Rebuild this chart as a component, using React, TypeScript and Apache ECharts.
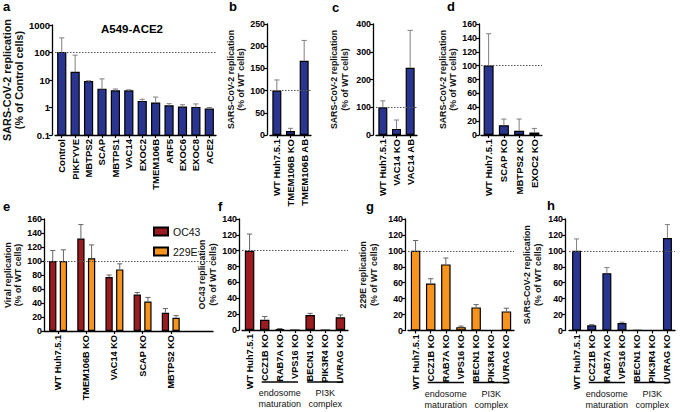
import React, { useEffect, useRef } from 'react';
import * as echarts from 'echarts';

const aCategories = ['Control', 'PIKFYVE', 'MBTPS2', 'SCAP', 'MBTPS1', 'VAC14', 'EXOC2', 'TMEM106B', 'ARF5', 'EXOC6', 'EXOC8', 'ACE2'];
const aValues = [100, 19, 8.7, 4.6, 4.0, 4.0, 1.65, 1.45, 1.15, 1.03, 1.0, 0.87];
const aErrors = [340, 80, 9.4, 11, 4.7, 4.4, 2.0, 2.4, 1.38, 1.26, 1.35, 1.0];

const bCategories = ['WT Huh7.5.1', 'TMEM106B KO', 'TMEM106B AB'];
const bValues = [100, 9, 167];
const bErrors = [124, 15, 213];

const cCategories = ['WT Huh7.5.1', 'VAC14 KO', 'VAC14 AB'];
const cValues = [100, 22, 242];
const cErrors = [123, 54, 377];

const dCategories = ['WT Huh7.5.1', 'SCAP KO', 'MBTPS2 KO', 'EXOC2 KO'];
const dValues = [100, 14, 6, 3.5];
const dErrors = [146, 23, 23, 9.5];

const eCategories = ['WT Huh7.5.1', 'TMEM106B KO', 'VAC14 KO', 'SCAP KO', 'MBTPS2 KO'];
const eOC43 = [100, 132, 77, 52, 26];
const eOC43Err = [115, 152, 80, 55, 32];
const e229E = [100, 104, 88, 42, 19];
const e229EErr = [116, 123, 96, 48, 22];

const fghCategories = ['WT Huh7.5.1', 'CCZ1B KO', 'RAB7A KO', 'VPS16 KO', 'BECN1 KO', 'PIK3R4 KO', 'UVRAG KO'];
const fValues = [100, 13, 1.2, 0, 19, 0, 16];
const fErrors = [121, 17, 1.8, null, 21, null, 19];
const gValues = [100, 59, 83, 4.2, 29, 0, 24];
const gErrors = [113, 65, 91, 5.5, 32.5, null, 28];
const hValues = [100, 6.5, 72, 9.5, 0.6, 0, 116];
const hErrors = [115, 7.5, 79, 10.5, null, null, 133];

const groupLabels = [['endosome', 'maturation'], ['PI3K', 'complex']];
const groupRanges = [['CCZ1B KO', 'VPS16 KO'], ['BECN1 KO', 'UVRAG KO']];

const BLUE = '#2a3590';
const RED = '#9a1b20';
const ORANGE = '#f7941d';
const FONT = '"Liberation Sans", Arial, sans-serif';

export default function App() {
  const ref = useRef<HTMLDivElement>(null);

  useEffect(() => {
    if (!ref.current) return;
    const chart = echarts.init(ref.current, undefined, { renderer: 'svg' });

    const panels: any[] = [
      { cats: aCategories, left: 52, top: 25, width: 164, height: 110, offset: 3, nameGap: 24, log: true, min: 0.1, max: 1000, name: 'SARS-CoV-2 replication\n(% of Control cells)', big: true },
      { cats: bCategories, left: 270, top: 24, width: 41, height: 111, offset: 3, nameGap: 19, min: 0, max: 250, interval: 50, name: 'SARS-CoV-2 replication\n(% of WT cells)' },
      { cats: cCategories, left: 376, top: 24, width: 41, height: 111, offset: 3, nameGap: 23, min: 0, max: 400, interval: 100, name: 'SARS-CoV-2 replication\n(% of WT cells)' },
      { cats: dCategories, left: 481, top: 24, width: 61, height: 111, offset: 2, nameGap: 19, min: 0, max: 160, interval: 20, name: 'SARS-CoV-2 replication\n(% of WT cells)' },
      { cats: eCategories, left: 44, top: 219, width: 169, height: 112, offset: 0, nameGap: 20, min: 0, max: 160, interval: 20, name: 'Viral replication\n(% of WT cells)', extra: true },
      { cats: fghCategories, left: 242, top: 219, width: 106, height: 111, offset: 3, nameGap: 21, min: 0, max: 140, interval: 20, name: 'OC43 replication\n(% of WT cells)' },
      { cats: fghCategories, left: 408, top: 219, width: 106, height: 111.5, offset: 3, nameGap: 26, min: 0, max: 140, interval: 20, name: '229E replication\n(% of WT cells)' },
      { cats: fghCategories, left: 569, top: 219, width: 106, height: 111.5, offset: 4, nameGap: 22, min: 0, max: 140, interval: 20, name: 'SARS-CoV-2 replication\n(% of WT cells)' },
    ];

    const grid = panels.map((p) => ({ left: p.left, top: p.top, width: p.width, height: p.height, containLabel: false }));

    const xAxis = panels.map((p, i) => ({
      type: 'category',
      gridIndex: i,
      data: p.cats,
      max: p.extra ? p.cats.length : undefined,
      axisLine: { show: true, lineStyle: { color: '#000', width: 1.3 } },
      axisTick: {
        show: true, alignWithLabel: true, length: 3, lineStyle: { color: '#000', width: 1.2 },
        interval: p.extra ? (idx: number) => idx < p.cats.length : 0,
      },
      axisLabel: {
        rotate: 90, interval: 0, margin: 4,
        fontSize: i < 4 ? 9.5 : 9.2, fontWeight: 'bold', color: '#000', fontFamily: FONT,
        formatter: (v: any) => (v == null ? '' : String(v)),
      },
      splitLine: { show: false },
    }));

    const yAxis = panels.map((p, i) => ({
      type: p.log ? 'log' : 'value',
      logBase: 10,
      gridIndex: i,
      min: p.min,
      max: p.max,
      interval: p.interval,
      offset: p.offset,
      name: p.name,
      nameLocation: 'middle',
      nameGap: p.nameGap,
      nameTextStyle: {
        fontSize: p.big ? 10.8 : 8.8, lineHeight: p.big ? 12 : 10.5, fontWeight: 'bold', color: '#111', fontFamily: FONT,
      },
      axisLine: { show: true, lineStyle: { color: '#000', width: 1.3 } },
      axisTick: { show: true, length: 3, lineStyle: { color: '#000', width: 1.2 } },
      minorTick: { show: false },
      axisLabel: {
        fontSize: p.big ? 9.5 : 8.8, fontWeight: 'bold', color: '#000', fontFamily: FONT, margin: 2,
        formatter: (v: number) => String(v),
      },
      splitLine: { show: false },
    }));

    const series: any[] = [];

    const errRender = (shift: number, color: string) => (params: any, api: any) => {
      const idx = api.value(0);
      const m = api.value(1);
      const e = api.value(2);
      const p0 = api.coord([idx, m]);
      const p1 = api.coord([idx, e]);
      const x = p0[0] + shift;
      const cap = 2.6;
      return {
        type: 'group',
        children: [
          { type: 'line', shape: { x1: x, y1: p0[1], x2: x, y2: p1[1] }, style: { stroke: color, lineWidth: 1 } },
          { type: 'line', shape: { x1: x - cap, y1: p1[1], x2: x + cap, y2: p1[1] }, style: { stroke: color, lineWidth: 1 } },
        ],
      };
    };

    const errData = (vals: number[], errs: (number | null)[]) =>
      vals.map((v, i) => (errs[i] == null ? null : [i, v, errs[i]])).filter((d) => d !== null);

    const addRef = (i: number) => {
      series.push({
        type: 'line', xAxisIndex: i, yAxisIndex: i, data: [], z: 1, silent: true,
        markLine: {
          silent: true, symbol: 'none', animation: false,
          label: { show: false },
          lineStyle: { type: [1.5, 1.5], color: '#555', width: 1 },
          data: [{ yAxis: 100 }],
        },
      });
    };

    const addErr = (i: number, vals: number[], errs: (number | null)[], errColor: string) => {
      series.push({
        type: 'custom', xAxisIndex: i, yAxisIndex: i, z: 4, silent: true,
        renderItem: errRender(0, errColor),
        data: errData(vals, errs),
        encode: { x: 0, y: [1, 2] },
      });
    };

    const addBar = (i: number, name: string, vals: number[], errs: (number | null)[], color: string, barWidth: number, errColor: string) => {
      addRef(i);
      series.push({
        type: 'bar', name, xAxisIndex: i, yAxisIndex: i, data: vals, barWidth, z: 3,
        itemStyle: { color, borderColor: '#000', borderWidth: 1.2 },
      });
      addErr(i, vals, errs, errColor);
    };

    // panel a: log axis, bars drawn from the axis minimum
    addRef(0);
    series.push({
      type: 'custom', name: 'a', xAxisIndex: 0, yAxisIndex: 0, z: 3,
      data: aValues.map((v, i) => [i, v]),
      encode: { x: 0, y: 1 },
      renderItem: (params: any, api: any) => {
        const idx = api.value(0);
        const v = api.value(1);
        const top = api.coord([idx, v]);
        const base = api.coord([idx, 0.1]);
        const w = 8;
        return {
          type: 'rect',
          shape: { x: top[0] - w / 2, y: top[1], width: w, height: base[1] - top[1] },
          style: { fill: BLUE, stroke: '#000', lineWidth: 1.2 },
        };
      },
    });
    addErr(0, aValues, aErrors, '#808080');

    addBar(1, 'b', bValues, bErrors, BLUE, 9, '#808080');
    addBar(2, 'c', cValues, cErrors, BLUE, 9, '#808080');
    addBar(3, 'd', dValues, dErrors, BLUE, 10, '#808080');

    // panel e
    addRef(4);
    const eBw = 7.3;
    const eShift = (eBw + 3.4) / 2;
    series.push({
      type: 'bar', name: 'OC43', xAxisIndex: 4, yAxisIndex: 4, data: eOC43, barWidth: eBw, barGap: '46%', z: 3,
      itemStyle: { color: RED, borderColor: '#000', borderWidth: 1.2 },
    });
    series.push({
      type: 'bar', name: '229E', xAxisIndex: 4, yAxisIndex: 4, data: e229E, barWidth: eBw, barGap: '46%', z: 3,
      itemStyle: { color: ORANGE, borderColor: '#000', borderWidth: 1.2 },
    });
    series.push({
      type: 'custom', xAxisIndex: 4, yAxisIndex: 4, z: 4, silent: true,
      renderItem: errRender(-eShift, '#666'), data: errData(eOC43, eOC43Err), encode: { x: 0, y: [1, 2] },
    });
    series.push({
      type: 'custom', xAxisIndex: 4, yAxisIndex: 4, z: 4, silent: true,
      renderItem: errRender(eShift, '#666'), data: errData(e229E, e229EErr), encode: { x: 0, y: [1, 2] },
    });

    addBar(5, 'f', fValues, fErrors, RED, 9.5, '#666');
    addBar(6, 'g', gValues, gErrors, ORANGE, 9.5, '#666');
    addBar(7, 'h', hValues, hErrors, BLUE, 9, '#808080');

    chart.setOption({
      animation: false,
      textStyle: { fontFamily: FONT },
      grid,
      xAxis,
      yAxis,
      legend: {
        data: ['OC43', '229E'],
        orient: 'vertical',
        left: 148,
        top: 221,
        itemWidth: 14,
        itemHeight: 8,
        itemGap: 9,
        icon: 'rect',
        textStyle: { fontSize: 10.5, color: '#111', fontFamily: FONT },
      },
      series,
    });

    const graphic: any[] = [];
    const panelLetters = [
      ['a', 3, 13], ['b', 229, 13], ['c', 332, 14], ['d', 447, 13],
      ['e', 3, 213], ['f', 218, 213], ['g', 366, 213], ['h', 547, 212],
    ];
    panelLetters.forEach(([t, x, y]) => {
      graphic.push({
        type: 'text', x, y,
        style: { text: t, fontSize: 13, fontWeight: 'bold', fill: '#000', fontFamily: FONT, textVerticalAlign: 'bottom' },
      });
    });
    graphic.push({
      type: 'text', x: 132, y: 29,
      style: { text: 'A549-ACE2', fontSize: 11.5, fontWeight: 'bold', fill: '#000', fontFamily: FONT, textAlign: 'center', textVerticalAlign: 'middle' },
    });

    [5, 6, 7].forEach((gi) => {
      const bottom = panels[gi].top + panels[gi].height;
      groupRanges.forEach((rng, k) => {
        const x1 = chart.convertToPixel({ xAxisIndex: gi } as any, rng[0]) as any as number;
        const x2 = chart.convertToPixel({ xAxisIndex: gi } as any, rng[1]) as any as number;
        graphic.push({
          type: 'line', shape: { x1: x1 - 3, y1: bottom + 52, x2: x2 + 3, y2: bottom + 52 },
          style: { stroke: '#000', lineWidth: 1.4 },
        });
        const cx = (x1 + x2) / 2;
        graphic.push({
          type: 'text', x: cx, y: bottom + 63,
          style: { text: groupLabels[k][0], fontSize: 9, fill: '#111', fontFamily: FONT, textAlign: 'center', textVerticalAlign: 'middle' },
        });
        graphic.push({
          type: 'text', x: cx, y: bottom + 74,
          style: { text: groupLabels[k][1], fontSize: 9, fill: '#111', fontFamily: FONT, textAlign: 'center', textVerticalAlign: 'middle' },
        });
      });
    });

    chart.setOption({ graphic });

    return () => chart.dispose();
  }, []);

  return <div ref={ref} style={{ position: 'fixed', left: 0, top: 0, width: 680, height: 412, background: '#fff' }} />;
}
